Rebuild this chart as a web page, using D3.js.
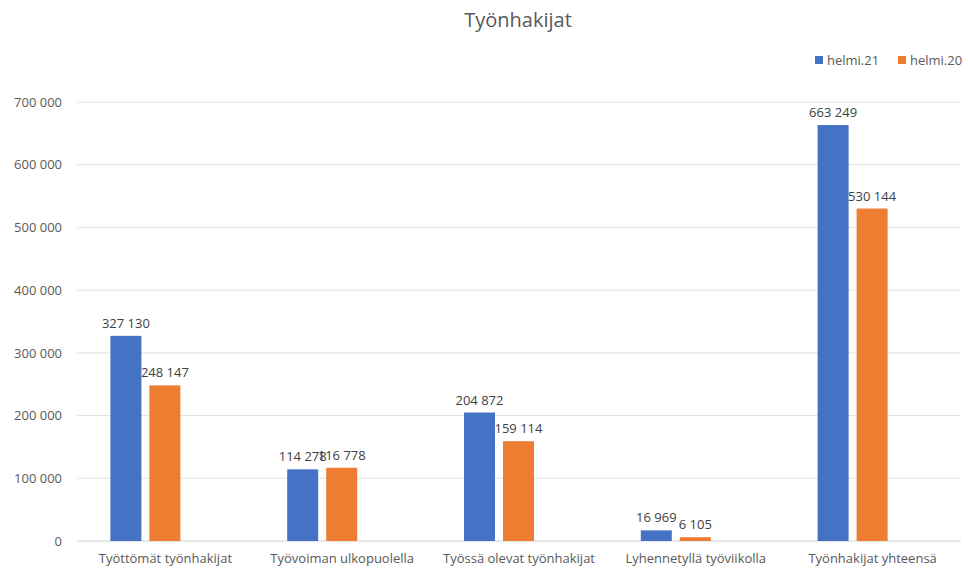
<!DOCTYPE html>
<html>
<head>
<meta charset="utf-8">
<script src="https://cdn.jsdelivr.net/npm/d3@7"></script>
<style>
  html, body { margin: 0; padding: 0; background: #fff; }
  svg { display: block; font-family: "Open Sans", "Liberation Sans", sans-serif; }
</style>
</head>
<body>
<svg id="chart" width="968" height="576"></svg>
<script>
// Job seekers by category, February 2021 vs February 2020
const categories = ["Työttömät työnhakijat", "Työvoiman ulkopuolella", "Työssä olevat työnhakijat", "Lyhennetyllä työviikolla", "Työnhakijat yhteensä"];
const seriesNames = ["helmi.21", "helmi.20"];
const helmi21 = [327130, 114278, 204872, 16969, 663249];
const helmi20 = [248147, 116778, 159114, 6105, 530144];
const yTicks = [0, 100000, 200000, 300000, 400000, 500000, 600000, 700000];
const colors = ["#4472C4", "#ED7D31"];

const svg = d3.select("#chart");
const margin = { left: 77, right: 7, top: 102, bottom: 35 };
const W = 968, H = 576;

const fmt = v => d3.format(",")(v).replace(/,/g, " ");

const x = d3.scaleBand().domain(categories).range([margin.left, W - margin.right]).padding(0);
const y = d3.scaleLinear().domain([0, 700000]).range([H - margin.bottom, margin.top]);

// Title
svg.append("text").attr("x", 518).attr("y", 27).attr("text-anchor", "middle")
  .attr("font-size", 20).attr("fill", "#595959").text("Työnhakijat");

// Gridlines
svg.append("g").selectAll("line").data(yTicks).join("line")
  .attr("x1", margin.left).attr("x2", W - margin.right)
  .attr("y1", d => y(d)).attr("y2", d => y(d))
  .attr("stroke", d => d === 0 ? "#d0d0d0" : "#e3e3e3").attr("stroke-width", 1);

// Y axis labels
const yAxis = d3.axisLeft(y).tickValues(yTicks).tickFormat(fmt).tickSize(0).tickPadding(0);
const gy = svg.append("g").attr("transform", `translate(${62},0)`).call(yAxis);
gy.select(".domain").remove();
gy.selectAll("text").attr("font-size", 13).attr("fill", "#595959").attr("font-family", "'Open Sans', 'Liberation Sans', sans-serif");

// X axis labels
const xAxis = d3.axisBottom(x).tickSize(0).tickPadding(0);
const gx = svg.append("g").attr("transform", `translate(0,${y(0) + 13})`).call(xAxis);
gx.select(".domain").remove();
gx.selectAll("text").attr("font-size", 13).attr("fill", "#595959").attr("font-family", "'Open Sans', 'Liberation Sans', sans-serif");

// Bars: the pair sits left of the category centre (room for a third, empty slot)
const barW = 31, gap = 8;
const series = [helmi21, helmi20];
series.forEach((vals, si) => {
  const off = -55 + si * (barW + gap);
  const g = svg.append("g");
  g.selectAll("rect").data(vals).join("rect")
    .attr("x", (d, i) => x(categories[i]) + x.bandwidth() / 2 + off)
    .attr("y", d => y(d))
    .attr("width", barW)
    .attr("height", d => y(0) - y(d))
    .attr("fill", colors[si]);
  g.selectAll("text").data(vals).join("text")
    .attr("x", (d, i) => x(categories[i]) + x.bandwidth() / 2 + off + barW / 2)
    .attr("y", d => y(d) - 8)
    .attr("text-anchor", "middle")
    .attr("font-size", 13).attr("fill", "#404040")
    .text(fmt);
});

// Legend
const legend = svg.append("g");
const legX = [815, 898];
seriesNames.forEach((n, i) => {
  legend.append("rect").attr("x", legX[i]).attr("y", 56).attr("width", 8).attr("height", 8).attr("fill", colors[i]);
  legend.append("text").attr("x", legX[i] + 12).attr("y", 65).attr("font-size", 13).attr("fill", "#595959").text(n);
});
</script>
</body>
</html>
